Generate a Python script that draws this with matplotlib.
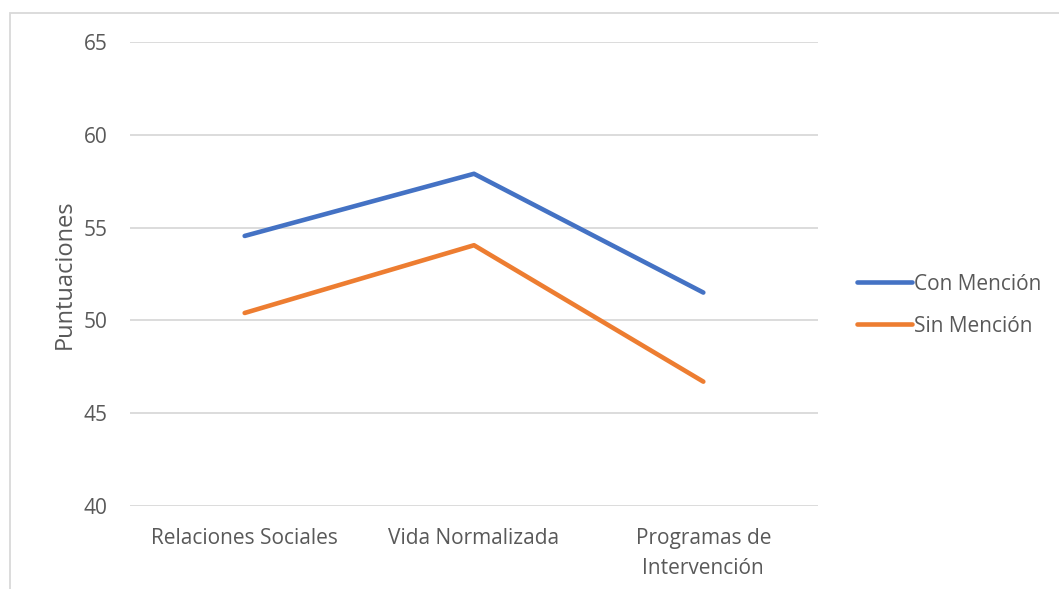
import matplotlib.pyplot as plt
from matplotlib.patches import Rectangle

categories = ['Relaciones Sociales', 'Vida Normalizada', 'Programas de\nIntervención']
con_mencion = [54.55, 57.9, 51.5]
sin_mencion = [50.4, 54.05, 46.7]

plt.rcParams['font.family'] = ['Open Sans', 'DejaVu Sans']
text_color = '#595959'

fig = plt.figure(figsize=(10.59, 5.89), dpi=100)
ax = fig.add_axes([130 / 1059, 1 - 506 / 589, 688 / 1059, 464 / 589])

x = range(len(categories))
ax.plot(x, con_mencion, color='#4472C4', linewidth=3.3, label='Con Mención', solid_capstyle='round')
ax.plot(x, sin_mencion, color='#ED7D31', linewidth=3.3, label='Sin Mención', solid_capstyle='round')

ax.set_xlim(-0.5, 2.5)
ax.set_ylim(40, 65)
ax.set_yticks([40, 45, 50, 55, 60, 65])
ax.set_xticks(list(x))
ax.set_xticklabels(categories, linespacing=1.55)
ax.grid(axis='y', color='#D9D9D9', linewidth=1.3)
ax.set_axisbelow(True)
for s in ax.spines.values():
    s.set_visible(False)
ax.tick_params(length=0, labelsize=15, colors=text_color)
ax.tick_params(axis='y', pad=16)
ax.tick_params(axis='x', pad=16)
ax.set_ylabel('Puntuaciones', fontsize=17, color=text_color, labelpad=5)

leg = ax.legend(loc='center left', bbox_to_anchor=(1.03, 0.433), frameon=False,
                fontsize=15, handlelength=2.6, handletextpad=0.1, labelspacing=1.0)
for t in leg.get_texts():
    t.set_color(text_color)

fig.patches.append(Rectangle((10 / 1059, -0.1), 1.2, 1.1 - 13 / 589, transform=fig.transFigure,
                             fill=False, edgecolor='#D9D9D9', linewidth=1.3))

fig.savefig('out.png', dpi=100)
